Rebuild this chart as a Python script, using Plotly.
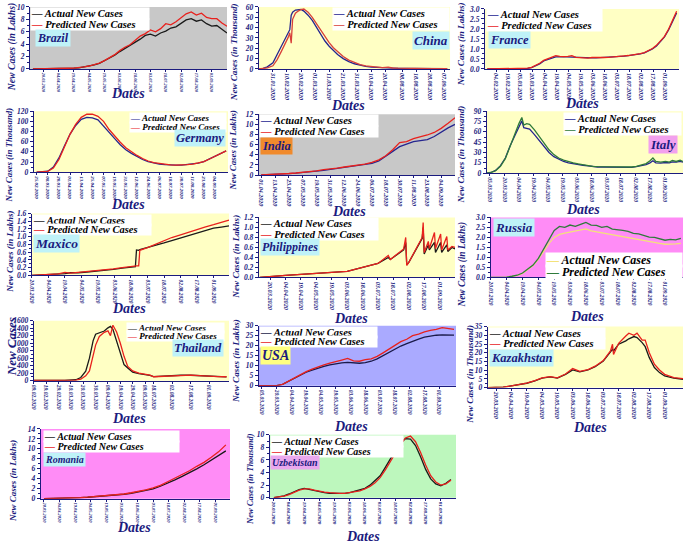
import pandas as pd
import plotly.graph_objects as go

W, H = 685, 548
SERIF = "Liberation Serif"
NAVY = "#1b1b7e"

# ---------------- data ----------------
# Brazil (lakhs), every 5 days from 10.03.2020
brazil_start = "2020-03-10"
brazil_step = 5
brazil_actual = [0, 0, 0.01, 0.02, 0.04, 0.06, 0.08, 0.1, 0.12, 0.18, 0.3, 0.45, 0.65, 0.9, 1.3,
                 1.7, 2.2, 2.8, 3.3, 3.7, 4.3, 4.8, 5.4, 5.6, 5.3, 5.8, 6.1, 6.6, 6.8, 7.3,
                 7.9, 8.1, 7.7, 7.9, 7.3, 6.9, 7.0, 6.4, 5.8]
brazil_pred = [0, 0, 0.01, 0.02, 0.04, 0.06, 0.09, 0.11, 0.14, 0.2, 0.32, 0.47, 0.68, 0.95, 1.35,
               1.8, 2.3, 2.95, 3.5, 3.9, 4.6, 5.3, 5.7, 6.3, 6.0, 6.5, 7.3, 7.1, 7.6, 8.3,
               8.9, 9.2, 8.7, 9.0, 8.3, 8.1, 8.1, 7.4, 6.9]
brazil_ticks = ["20.03.2020", "04.04.2020", "19.04.2020", "04.05.2020", "19.05.2020", "03.06.2020",
                "18.06.2020", "03.07.2020", "18.07.2020", "02.08.2020", "17.08.2020", "01.09.2020"]

# China (thousand)
china_dates = ["21.01", "24.01", "27.01", "31.01", "03.02", "06.02", "09.02", "11.02", "12.02", "13.02",
               "14.02", "16.02", "18.02", "20.02", "22.02", "25.02", "28.02", "02.03", "05.03", "08.03",
               "11.03", "14.03", "17.03", "21.03", "25.03", "29.03", "02.04", "06.04", "10.04", "14.04",
               "18.04", "22.04", "25.04", "05.08", "10.08", "15.08", "20.08", "25.08", "30.08", "04.09",
               "09.09"]
china_actual = [0, 0.5, 2, 6, 14, 22, 30, 35, 38, 52, 55, 57, 57.5, 57.5, 56, 52, 47, 40, 33, 27,
                22, 17.5, 14, 10, 7, 5, 3.5, 2.5, 1.8, 1.4, 1.1, 1.0, 0.8, 0.6, 0.5, 0.5, 0.4, 0.4,
                0.3, 0.3, 0.3]
china_pred = [0, 0.2, 1, 3, 9, 17, 25, 31, 35, 25, 48, 54, 56, 57.5, 58, 55, 50, 44, 37, 31,
              25.5, 20.5, 16.5, 12, 8.5, 6, 4.2, 3, 2.2, 1.6, 1.3, 1.8, 0.9, 0.7, 0.5, 0.5, 0.5, 0.4,
              0.3, 0.3, 0.3]
china_ticks = ["31.01.2020", "10.02.2020", "20.02.2020", "01.03.2020", "11.03.2020", "21.03.2020",
               "31.03.2020", "10.04.2020", "20.04.2020", "08.08.2020", "18.08.2020", "28.08.2020",
               "07.09.2020"]

# France (lakhs), every 5 days from 24.01.2020
france_start = "2020-01-24"
france_step = 5
france_actual = [0, 0, 0, 0, 0, 0, 0, 0, 0.002, 0.01, 0.03, 0.07, 0.15, 0.25, 0.4,
                 0.48, 0.54, 0.6, 0.61, 0.6, 0.6, 0.59, 0.57, 0.55, 0.54, 0.53, 0.55, 0.55, 0.56, 0.56,
                 0.57, 0.58, 0.6, 0.62, 0.64, 0.66, 0.68, 0.71, 0.75, 0.8, 0.88, 1.0, 1.15, 1.35, 1.6,
                 1.95, 2.35, 2.8]
france_pred = [0, 0, 0, 0, 0, 0, 0, 0, 0.003, 0.012, 0.035, 0.08, 0.17, 0.28, 0.43,
               0.5, 0.56, 0.66, 0.63, 0.61, 0.63, 0.66, 0.58, 0.56, 0.55, 0.54, 0.57, 0.56, 0.58, 0.57,
               0.58, 0.59, 0.61, 0.63, 0.65, 0.67, 0.7, 0.72, 0.77, 0.82, 0.9, 1.02, 1.18, 1.38, 1.63,
               1.98, 2.4, 2.88]
france_ticks = ["04.02.2020", "19.02.2020", "05.03.2020", "20.03.2020", "04.04.2020", "19.04.2020",
                "04.05.2020", "19.05.2020", "03.06.2020", "18.06.2020", "03.07.2020", "18.07.2020",
                "02.08.2020", "17.08.2020", "01.09.2020"]

# Germany (thousand), every 6 days from 25.02.2020
germany_start = "2020-02-25"
germany_step = 6
germany_actual = [0, 0.5, 2, 10, 28, 52, 75, 92, 104, 108, 107, 103, 90, 78, 66, 54, 44, 37, 31, 25,
                  21, 18, 16, 15, 14, 14, 14, 15, 16, 18, 21, 26, 31, 37, 42]
germany_pred = [0, 0.3, 1.5, 8, 25, 50, 75, 94, 108, 114, 114, 110, 100, 84, 71, 59, 48, 40, 33, 27,
                22, 19, 17, 15.5, 14.5, 14, 14, 15, 16, 18, 21, 26, 31, 37, 42]
germany_ticks = ["25.02.2020", "08.03.2020", "20.03.2020", "01.04.2020", "13.04.2020", "25.04.2020",
                 "07.05.2020", "19.05.2020", "31.05.2020", "12.06.2020", "24.06.2020", "06.07.2020",
                 "18.07.2020", "30.07.2020", "11.08.2020", "23.08.2020", "04.09.2020"]

# India (lakhs), every 6 days from 01.04.2020
india_start = "2020-04-01"
india_step = 6
india_actual = [0.05, 0.08, 0.15, 0.2, 0.3, 0.4, 0.5, 0.6, 0.8, 0.95, 1.15, 1.3, 1.5, 1.65, 1.8,
                2.0, 2.3, 2.8, 3.7, 4.7, 5.6, 6.1, 6.6, 6.8, 7.0, 7.6, 8.5, 9.3, 10.0]
india_pred = [0.05, 0.09, 0.16, 0.22, 0.32, 0.42, 0.53, 0.65, 0.85, 1.1, 1.2, 1.4, 1.6, 1.75, 1.95,
              2.15, 2.5, 3.0, 3.8, 5.0, 6.4, 6.6, 7.2, 7.5, 7.9, 8.4, 9.2, 10.2, 11.3]
india_ticks = ["01.04.2020", "13.04.2020", "25.04.2020", "07.05.2020", "19.05.2020", "31.05.2020",
               "12.06.2020", "24.06.2020", "06.07.2020", "18.07.2020", "30.07.2020", "11.08.2020",
               "23.08.2020", "04.09.2020"]

# Italy (thousand)
italy_dates = ["01.03", "06.03", "11.03", "16.03", "21.03", "26.03", "31.03", "04.04", "07.04", "09.04",
               "12.04", "15.04", "20.04", "25.04", "30.04", "05.05", "10.05", "15.05", "20.05", "25.05",
               "30.05", "04.06", "09.06", "14.06", "19.06", "24.06", "29.06", "04.07", "09.07", "14.07",
               "19.07", "24.07", "29.07", "03.08", "08.08", "13.08", "17.08", "20.08", "23.08", "28.08",
               "02.09", "06.09", "09.09", "13.09", "17.09", "20.09"]
italy_actual = [0, 1, 4, 11, 22, 40, 55, 68, 76, 66, 65, 64, 56, 47, 38, 30, 24, 20, 17, 15,
                13.5, 12.5, 11.5, 10.5, 9.5, 9, 9, 9, 8.5, 8.5, 8, 8, 8.5, 9.5, 11, 12.5, 15, 18, 15, 14.5,
                15.5, 15, 16.5, 16, 17, 16]
italy_pred = [0, 0.8, 3.5, 10, 21, 40, 57, 72, 81, 70, 72, 71, 63, 53, 43, 34, 27, 22, 19, 16.5,
              15, 13.5, 12, 11, 10, 9.5, 9.5, 9.5, 9, 9, 8.5, 8.5, 9, 10, 12, 14, 18, 22, 17, 16,
              17, 16, 18.5, 17, 19, 17]
italy_ticks = ["05.03.2020", "20.03.2020", "04.04.2020", "19.04.2020", "04.05.2020", "19.05.2020",
               "03.06.2020", "18.06.2020", "03.07.2020", "18.07.2020", "02.08.2020", "17.08.2020",
               "01.09.2020"]

# Mexico (lakhs)
mexico_dates = ["20.03", "28.03", "05.04", "13.04", "19.04", "24.04", "01.05", "09.05", "17.05", "25.05",
                "02.06", "10.06", "18.06", "22.06", "23.06", "25.06", "26.06", "03.07", "10.07", "18.07",
                "25.07", "02.08", "09.08", "17.08", "24.08", "01.09", "08.09", "15.09"]
mexico_actual = [0.0, 0.01, 0.02, 0.03, 0.05, 0.07, 0.07, 0.09, 0.11, 0.13, 0.16, 0.19, 0.22, 0.23,
                 0.66, 0.65, 0.67, 0.72, 0.78, 0.84, 0.9, 0.97, 1.03, 1.1, 1.16, 1.22, 1.25, 1.28]
mexico_pred = [0.0, 0.01, 0.02, 0.04, 0.08, 0.06, 0.08, 0.1, 0.12, 0.14, 0.17, 0.2, 0.24, 0.25,
               0.25, 0.25, 0.65, 0.72, 0.8, 0.88, 0.98, 1.05, 1.12, 1.19, 1.25, 1.31, 1.36, 1.43]
mexico_ticks = brazil_ticks

# Philippines (lakhs)
ph_dates = ["10.03", "20.03", "04.04", "19.04", "04.05", "19.05", "03.06", "18.06", "03.07", "13.07",
            "15.07", "28.07", "30.07", "31.07", "02.08", "15.08", "16.08", "17.08", "21.08", "22.08",
            "27.08", "28.08", "02.09", "03.09", "08.09", "09.09", "13.09", "16.09"]
ph_actual = [0.0, 0.01, 0.04, 0.06, 0.08, 0.1, 0.12, 0.2, 0.28, 0.4, 0.36, 0.55, 0.7, 0.25, 0.3,
             0.78, 1.0, 0.47, 0.65, 0.55, 0.7, 0.5, 0.7, 0.5, 0.65, 0.52, 0.6, 0.57]
ph_pred = [0.0, 0.01, 0.04, 0.06, 0.08, 0.1, 0.12, 0.2, 0.28, 0.44, 0.36, 0.57, 0.8, 0.24, 0.3,
           0.8, 1.1, 0.5, 0.72, 0.58, 0.9, 0.58, 0.87, 0.55, 0.82, 0.55, 0.62, 0.6]
ph_ticks = brazil_ticks

# Russia (lakhs), every 5 days from 20.03.2020
russia_start = "2020-03-20"
russia_step = 5
russia_actual = [0, 0, 0.01, 0.02, 0.05, 0.1, 0.2, 0.38, 0.6, 0.9, 1.3, 1.7, 2.0, 2.15, 2.22,
                 2.27, 2.33, 2.38, 2.43, 2.33, 2.28, 2.22, 2.18, 2.12, 2.08, 2.02, 1.98, 1.94, 1.88, 1.83,
                 1.78, 1.73, 1.7, 1.66, 1.66, 1.68, 1.7]
russia_pred = [0, 0, 0.01, 0.02, 0.06, 0.11, 0.22, 0.4, 0.62, 0.95, 1.4, 1.85, 2.35, 2.55, 2.5,
               2.62, 2.55, 2.65, 2.75, 2.62, 2.6, 2.5, 2.55, 2.42, 2.4, 2.35, 2.3, 2.2, 2.18, 2.1,
               2.02, 2.0, 1.92, 1.86, 1.9, 1.88, 1.95]
russia_ticks = brazil_ticks

# Thailand (cases)
thai_dates = ["09.02", "14.02", "19.02", "24.02", "29.02", "05.03", "10.03", "14.03", "18.03", "20.03",
              "22.03", "25.03", "28.03", "30.03", "02.04", "06.04", "09.04", "11.04", "13.04", "16.04",
              "19.04", "22.04", "25.04", "29.04", "04.05", "09.05", "13.05", "18.07", "25.07", "02.08",
              "09.08", "17.08", "24.08", "01.09", "08.09", "15.09"]
thai_actual = [5, 10, 10, 12, 10, 8, 10, 25, 85, 160, 256, 600, 1070, 1240, 1280, 1325, 1410, 1450, 1370,
               1070, 770, 430, 340, 230, 190, 170, 145, 110, 125, 130, 145, 145, 130, 110, 105, 100]
thai_pred = [5, 8, 10, 10, 12, 8, 8, 15, 40, 80, 130, 260, 650, 950, 1180, 1290, 1330, 1200, 1480,
             1300, 1000, 650, 380, 260, 200, 175, 150, 105, 120, 135, 150, 150, 135, 115, 110, 105]
thai_ticks = ["09.02.2020", "19.02.2020", "29.02.2020", "10.03.2020", "20.03.2020", "30.03.2020",
              "09.04.2020", "19.04.2020", "29.04.2020", "09.05.2020", "18.07.2020", "02.08.2020",
              "17.08.2020", "01.09.2020"]

# USA (lakhs), every 6 days from 02.03.2020
usa_start = "2020-03-02"
usa_step = 6
usa_actual = [0, 0, 0.01, 0.05, 0.6, 2.2, 3.9, 5.4, 6.7, 7.7, 8.8, 9.6, 10.4, 11.0, 11.4, 11.6, 11.3,
              11.2, 11.5, 12.2, 13.4, 15.0, 16.6, 18.3, 19.8, 21.0, 22.3, 23.3, 24.2, 24.8, 25.2, 25.4,
              25.4, 25.3]
usa_pred = [0, 0, 0.01, 0.05, 0.6, 2.3, 4.0, 5.6, 7.0, 8.2, 9.5, 10.4, 11.3, 12.2, 12.8, 13.6, 12.4,
            12.2, 13.0, 13.4, 14.6, 16.4, 18.3, 20.3, 22.0, 23.2, 25.0, 25.8, 26.9, 27.6, 28.1, 29.0,
            28.4, 28.1]
usa_ticks = ["05.03.2020"] + brazil_ticks

# Kazakhstan (thousand)
kz_dates = ["12.03", "20.03", "27.03", "04.04", "12.04", "19.04", "27.04", "04.05", "12.05", "19.05",
            "27.05", "03.06", "10.06", "18.06", "25.06", "03.07", "10.07", "12.07", "13.07", "18.07",
            "25.07", "28.07", "02.08", "05.08", "10.08", "13.08", "17.08", "22.08", "27.08", "01.09",
            "10.09", "19.09"]
kz_actual = [0, 0, 0.3, 1, 1.6, 2.5, 3.8, 5.4, 6.1, 5.4, 7.6, 10.1, 9, 10.1, 12, 15.3, 20.5, 22, 21,
             24.9, 26.8, 28, 29.3, 28.7, 25.8, 23.5, 17.2, 11.5, 8.6, 6.7, 5.4, 4.8]
kz_pred = [0, 0, 0.3, 1, 1.7, 2.6, 4, 5.6, 6.3, 5.6, 7.8, 10.9, 9.3, 10.3, 12.3, 15.5, 21, 24.9, 19,
           25.4, 29.6, 31.2, 30, 31.2, 27.3, 27.3, 20, 13.4, 10.1, 7.6, 5.7, 5.2]
kz_ticks = brazil_ticks

# Romania (lakhs), every 7 days from 20.03.2020
romania_start = "2020-03-20"
romania_step = 7
romania_actual = [0.0, 0.02, 0.05, 0.1, 0.15, 0.22, 0.3, 0.4, 0.5, 0.6, 0.75, 0.9, 1.1, 1.35, 1.65,
                  2.0, 2.5, 3.1, 3.8, 4.5, 5.2, 6.0, 6.8, 7.7, 8.6, 9.6]
romania_pred = [0.0, 0.02, 0.05, 0.1, 0.16, 0.24, 0.32, 0.42, 0.52, 0.64, 0.8, 0.95, 1.2, 1.45, 1.8,
                2.2, 2.7, 3.4, 4.1, 4.9, 5.6, 6.5, 7.3, 8.3, 9.4, 10.8]
romania_ticks = brazil_ticks

# Uzbekistan (thousand), every 5 days from 20.03.2020
uzb_start = "2020-03-20"
uzb_step = 5
uzb_actual = [0, 0.1, 0.3, 0.6, 1.0, 1.3, 1.5, 1.3, 1.1, 0.9, 0.8, 0.7, 0.7, 0.6, 0.7, 0.8, 1.0, 1.2,
              1.5, 2.0, 2.7, 3.5, 4.8, 6.2, 7.5, 8.6, 9.4, 9.3, 8.3, 6.5, 4.5, 3.0, 2.2, 1.9, 2.3, 2.9]
uzb_pred = [0, 0.1, 0.25, 0.5, 0.9, 1.2, 1.4, 1.4, 1.2, 1.0, 0.9, 0.8, 0.7, 0.7, 0.7, 0.8, 0.9, 1.1,
            1.4, 1.8, 2.4, 3.2, 4.4, 5.8, 7.2, 8.4, 9.5, 9.8, 8.9, 7.2, 5.2, 3.5, 2.5, 2.0, 2.2, 2.8]
uzb_ticks = brazil_ticks


def reg_dates(start, step, n):
    return pd.date_range(start, periods=n, freq=f"{step}D")


def dm_dates(labels):
    return pd.to_datetime([s + ".2020" for s in labels], format="%d.%m.%Y")


def iso(labels):
    return [pd.to_datetime(s, format="%d.%m.%Y").strftime("%Y-%m-%d") for s in labels]


# ---------------- styling / layout per panel ----------------
GRAY = "#c8c8c8"
YEL = "#ffffc4"
PINK = "#ff8cf6"
LAV = "#aaaaff"
GRN = "#bdf7bd"
CYAN = "#bff2f8"
BLACK = "#1a1a1a"
BLUE = "#25258f"
RED = "#e8211d"
DKGRN = "#2f7a3a"
LK = "New Cases (in Lakhs)"
TH = "New Cases (in Thousand)"

# dom = plot area (left, right, top, bottom) in px; leg = (x, y, anchor, width, line step, font)
# lab = (x, y, anchor, font); ytp = y-title centre (x, y, font); xtp = "Dates" centre (x, y)
panels = [
    dict(label="Brazil", x=reg_dates(brazil_start, brazil_step, len(brazil_actual)), a=brazil_actual,
         p=brazil_pred, ticks=brazil_ticks, yt=LK, yr=[0, 10], dt=2, fmt="d",
         xr=["2020-03-07", "2020-09-16"], brk=None, bg=GRAY, lbg=CYAN, ca=BLACK, cp=RED,
         dom=(27, 225, 3, 66), leg=(27, 3, "left", 118, 11, 10.5), lab=(32, 25, "left", 12),
         ytp=(9, 44, 9.7), xtp=(126, 91), tf=4.3),
    dict(label="China", x=dm_dates(china_dates), a=china_actual, p=china_pred, ticks=china_ticks,
         yt=TH, yr=[0, 60], dt=10, fmt="d", xr=["2020-01-21", "2020-09-11"],
         brk=["2020-04-27", "2020-08-03"], bg=YEL, lbg=CYAN, ca=BLUE, cp="#d8403a",
         dom=(257, 449, 3, 66), leg=(449, 3, "right", 116, 11, 10.5), lab=(449, 27, "right", 13),
         ytp=(232, 49, 9.1), xtp=(347, 103), tf=6),
    dict(label="France", x=reg_dates(france_start, france_step, len(france_actual)), a=france_actual,
         p=france_pred, ticks=france_ticks, yt=LK, yr=[0, 3], dt=0.5, fmt=".1f",
         xr=["2020-01-21", "2020-09-18"], brk=None, bg=YEL, lbg=CYAN, ca=BLUE, cp=RED,
         dom=(484, 679, 5, 66), leg=(485, 4, "left", 115, 11, 10.5), lab=(487, 27, "left", 12.5),
         ytp=(460, 41, 9.2), xtp=(582, 101), tf=6),
    dict(label="Germany", x=reg_dates(germany_start, germany_step, len(germany_actual)), a=germany_actual,
         p=germany_pred, ticks=germany_ticks, yt=TH, yr=[0, 120], dt=20, fmt="d",
         xr=["2020-02-22", "2020-09-18"], brk=None, bg=YEL, lbg=CYAN, ca=BLUE, cp=RED,
         dom=(31, 226, 109, 171), leg=(225, 110, "right", 96, 8.5, 9), lab=(224, 127, "right", 12.5),
         ytp=(7, 153, 8.8), xtp=(126, 204), tf=5),
    dict(label="India", x=reg_dates(india_start, india_step, len(india_actual)), a=india_actual,
         p=india_pred, ticks=india_ticks, yt=LK, yr=[0, 12], dt=2, fmt="d",
         xr=["2020-03-30", "2020-09-16"], brk=None, bg=GRAY, lbg="#f08a2c", ca=BLUE, cp=RED,
         dom=(257, 454, 112, 174), leg=(257, 112, "left", 118, 11.5, 10.5), lab=(258, 135, "left", 12.5),
         ytp=(231, 149, 8.8), xtp=(348, 211), tf=6),
    dict(label="Italy", x=dm_dates(italy_dates), a=italy_actual, p=italy_pred, ticks=italy_ticks,
         yt=TH, yr=[0, 90], dt=15, fmt="d", xr=["2020-03-02", "2020-09-20"], brk=None, bg=YEL,
         lbg="#f2a0ee", ca=BLUE, cp=DKGRN,
         dom=(486, 683, 109, 172), leg=(682, 110, "right", 117, 11, 10.5), lab=(678, 133, "right", 13),
         ytp=(461, 153, 9.1), xtp=(583, 209), tf=5.5),
    dict(label="Maxico", x=dm_dates(mexico_dates), a=mexico_actual, p=mexico_pred, ticks=mexico_ticks,
         yt=LK, yr=[0, 1.6], dt=0.2, fmt=".1f", xr=["2020-03-20", "2020-09-15"], brk=None, bg=YEL,
         lbg=CYAN, ca=BLACK, cp=RED,
         dom=(29, 227, 213, 276), leg=(29, 213, "left", 118, 10, 10.5), lab=(30, 234, "left", 13.5),
         ytp=(7, 252, 9), xtp=(127, 310), tf=5.3),
    dict(label="Philippines", x=dm_dates(ph_dates), a=ph_actual, p=ph_pred, ticks=ph_ticks,
         yt=LK, yr=[0, 1.2], dt=0.2, fmt=".1f", xr=["2020-03-09", "2020-09-16"], brk=None, bg=YEL,
         lbg=CYAN, ca=BLACK, cp=RED,
         dom=(257, 454, 217, 278), leg=(257, 217, "left", 118, 10.5, 10.5), lab=(258, 238, "left", 12),
         ytp=(234, 257, 9.2), xtp=(350, 320), tf=6.3),
    dict(label="Russia", x=reg_dates(russia_start, russia_step, len(russia_actual)), a=russia_actual,
         p=russia_pred, ticks=russia_ticks, yt=LK, yr=[0, 3], dt=0.5, fmt=".1f",
         xr=["2020-03-20", "2020-09-18"], brk=None, bg=PINK, lbg=CYAN, ca="#f3e27a", cp=DKGRN,
         dom=(490, 683, 217, 278), leg=(683, 252, "right", 136, 12.5, 12), lab=(492, 218, "left", 13),
         ytp=(462, 265, 9.4), xtp=(587, 318), tf=5.3),
    dict(label="Thailand", x=dm_dates(thai_dates), a=thai_actual, p=thai_pred, ticks=thai_ticks,
         yt="New Cases", yr=[0, 1600], dt=200, fmt="d", xr=["2020-02-09", "2020-09-17"],
         brk=["2020-05-14", "2020-07-16"], bg=YEL, lbg=CYAN, ca=BLACK, cp=RED,
         dom=(31, 227, 322, 383), leg=(223, 323, "right", 97, 8.5, 9), lab=(222, 341, "right", 12.5),
         ytp=(8, 348, 13), xtp=(127, 421), tf=5.5),
    dict(label="USA", x=reg_dates(usa_start, usa_step, len(usa_actual)), a=usa_actual, p=usa_pred,
         ticks=usa_ticks, yt=LK, yr=[0, 30], dt=5, fmt="d", xr=["2020-03-02", "2020-09-18"], brk=None,
         bg=LAV, lbg="#ffff80", ca="#1a1a4a", cp=RED,
         dom=(257, 455, 327, 388), leg=(257, 327, "left", 117, 10, 10.5), lab=(258, 348, "left", 14),
         ytp=(234, 363, 9.2), xtp=(350, 430), tf=5.5),
    dict(label="Kazakhstan", x=dm_dates(kz_dates), a=kz_actual, p=kz_pred, ticks=kz_ticks,
         yt=TH, yr=[0, 35], dt=5, fmt="d", xr=["2020-03-12", "2020-09-19"], brk=None, bg=YEL,
         lbg=CYAN, ca=BLACK, cp=RED,
         dom=(487, 683, 328, 390), leg=(487, 328, "left", 116, 11, 10.5), lab=(488, 351, "left", 12.5),
         ytp=(469, 376, 9.2), xtp=(590, 431), tf=6),
    dict(label="Romania", x=reg_dates(romania_start, romania_step, len(romania_actual)), a=romania_actual,
         p=romania_pred, ticks=romania_ticks, yt=LK, yr=[0, 14], dt=2, fmt="d",
         xr=["2020-03-17", "2020-09-15"], brk=None, bg=PINK, lbg=CYAN, ca=BLACK, cp=RED,
         dom=(38, 228, 432, 503), leg=(40, 433, "left", 135, 10, 10), lab=(40, 455, "left", 10),
         ytp=(10, 485, 9), xtp=(132, 532), tf=4.4),
    dict(label="Uzbekistan", x=reg_dates(uzb_start, uzb_step, len(uzb_actual)), a=uzb_actual,
         p=uzb_pred, ticks=uzb_ticks, yt=TH, yr=[0, 10], dt=2, fmt="d",
         xr=["2020-03-16", "2020-09-16"], brk=None, bg=GRN, lbg="#eaa8ee", ca=BLACK, cp=RED,
         dom=(268, 455, 438, 502), leg=(268, 438, "left", 132, 10, 10), lab=(268, 459, "left", 10),
         ytp=(248, 483, 8.5), xtp=(362, 541), tf=5),
]

fig = go.Figure()
layout = dict(width=W, height=H, autosize=False, margin=dict(l=0, r=0, t=0, b=0, pad=0),
              paper_bgcolor="white", plot_bgcolor="rgba(0,0,0,0)", showlegend=False,
              font=dict(family=SERIF, color=NAVY), shapes=[], annotations=[])

BI = dict(weight="bold", style="italic")


def px(x):
    return x / W


def py(y):
    return 1 - y / H


for i, pn in enumerate(panels, start=1):
    sfx = "" if i == 1 else str(i)
    xref, yref = "x" + sfx, "y" + sfx
    l, r, t, b = pn["dom"]
    xa = dict(domain=[px(l), px(r)], anchor=yref, type="date", range=pn["xr"],
              tickmode="array", tickvals=iso(pn["ticks"]), ticktext=pn["ticks"], tickangle=90,
              tickfont=dict(family=SERIF, size=pn["tf"], color=NAVY, **BI),
              showline=True, linecolor=NAVY, linewidth=1, ticks="outside", ticklen=2, tickcolor=NAVY,
              showgrid=False, zeroline=False)
    if pn["brk"]:
        xa["rangebreaks"] = [dict(bounds=pn["brk"])]
    ya = dict(domain=[py(b), py(t)], anchor=xref, range=pn["yr"], dtick=pn["dt"],
              tickformat=pn["fmt"], tickfont=dict(family=SERIF, size=7.5, color=NAVY, **BI),
              showline=True, linecolor=NAVY, linewidth=1, ticks="outside", ticklen=3, tickcolor=NAVY,
              minor=dict(ticks="outside", ticklen=1.5, dtick=pn["dt"] / 2, tickcolor=NAVY),
              showgrid=False, zeroline=False)
    layout["xaxis" + sfx] = xa
    layout["yaxis" + sfx] = ya
    layout["shapes"].append(dict(type="rect", xref=xref + " domain", yref=yref + " domain",
                                 x0=0, x1=1, y0=0, y1=1, fillcolor=pn["bg"], line=dict(width=0),
                                 layer="below"))
    fig.add_trace(go.Scatter(x=pn["x"], y=pn["a"], mode="lines", name="Actual New Cases",
                             line=dict(color=pn["ca"], width=1.3), xaxis=xref, yaxis=yref))
    fig.add_trace(go.Scatter(x=pn["x"], y=pn["p"], mode="lines", name="Predicted New Cases",
                             line=dict(color=pn["cp"], width=1.3), xaxis=xref, yaxis=yref))

    # axis titles
    tx, ty, tfs = pn["ytp"]
    layout["annotations"].append(dict(xref="paper", yref="paper", x=px(tx), y=py(ty), xanchor="center",
                                      yanchor="middle", text=pn["yt"], textangle=-90, showarrow=False,
                                      font=dict(family=SERIF, size=tfs, color=NAVY, **BI)))
    dx, dy = pn["xtp"]
    layout["annotations"].append(dict(xref="paper", yref="paper", x=px(dx), y=py(dy), xanchor="center",
                                      yanchor="middle", text="Dates", showarrow=False,
                                      font=dict(family=SERIF, size=14, color=NAVY, **BI)))

    # legend box (two rows of equal width)
    lx, ly, lanc, lw, ls, lf = pn["leg"]
    rows = [(pn["ca"], "Actual New Cases"), (pn["cp"], "Predicted New Cases")]
    for k, (col, txt) in enumerate(rows):
        layout["annotations"].append(dict(
            xref="paper", yref="paper", x=px(lx), y=py(ly + k * ls), xanchor=lanc, yanchor="top",
            text=f"<span style='color:{col}'>—</span> {txt}", showarrow=False, align="left",
            width=lw, bgcolor="white", borderpad=0,
            font=dict(family=SERIF, size=lf, color="black", **BI)))

    # country label
    bx, by, banc, bf = pn["lab"]
    layout["annotations"].append(dict(xref="paper", yref="paper", x=px(bx), y=py(by),
                                      xanchor=banc, yanchor="top", text=pn["label"], showarrow=False,
                                      bgcolor=pn["lbg"], borderpad=1,
                                      font=dict(family=SERIF, size=bf, color=NAVY, **BI)))

fig.update_layout(**layout)
fig.write_html("out.html", config={"displayModeBar": False},
               post_script="document.body.style.margin='0';document.body.style.padding='0';")
